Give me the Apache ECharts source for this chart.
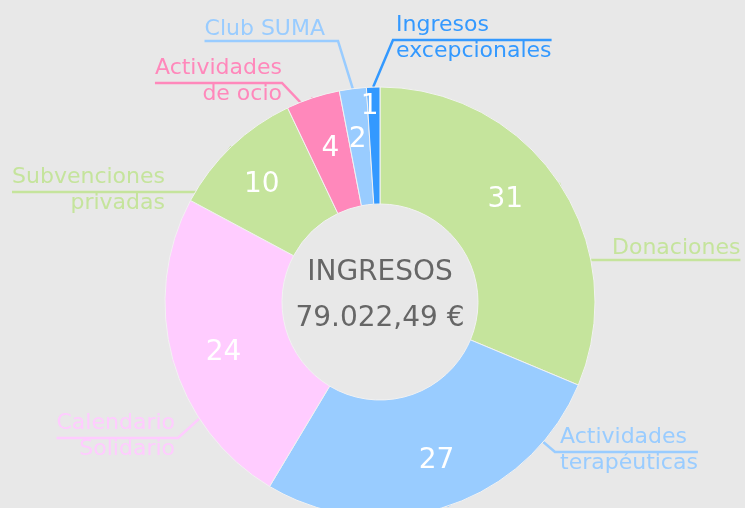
<!DOCTYPE html>
<html>
<head>
<meta charset="utf-8">
<script src="https://cdn.jsdelivr.net/npm/echarts@6/dist/echarts.min.js"></script>
<style>
  html, body { margin: 0; padding: 0; background: #e8e8e8; }
  #main { width: 745px; height: 508px; }
</style>
</head>
<body>
<div id="main"></div>
<script>
// datos
const categorias = ['Donaciones', 'Actividades\nterapéuticas', 'Calendario\nSolidario', 'Subvenciones\nprivadas', 'Actividades\nde ocio', 'Club SUMA', 'Ingresos\nexcepcionales'];
const valores = [31, 27, 24, 10, 4, 2, 1];
const colores = ['#c5e49c', '#99ccff', '#ffccff', '#c5e49c', '#ff88bb', '#99ccff', '#3399ff'];
const tituloCentro = ['INGRESOS', '79.022,49 €'];

// estilo de las etiquetas (puntos de quiebre de las lineas, no son datos)
const CX = 380, CY = 302;
const guias = [
  { bends: [[585, 260]], side: 1, pad: 27 },
  { bends: [[541, 440], [555, 452]], side: 1, pad: 5 },
  { bends: [[200, 418], [178, 438]], side: -1, pad: 3 },
  { bends: [[198, 192]], side: -1, pad: 33 },
  { bends: [[304, 106], [282, 83]], side: -1, pad: 0 },
  { bends: [[338, 41]], side: -1, pad: 13 },
  { bends: [[393, 40]], side: 1, pad: 3 }
];
const offsetNumeros = [[-15, -9], [4, -1], [6, 6], [-2, 5], [3, 7], [-1, 5], [-5, -27]];

const myChart = echarts.init(document.getElementById('main'));

const option = {
  backgroundColor: '#e8e8e8',
  animation: false,
  title: {
    text: tituloCentro.join('\n'),
    left: CX,
    top: 250,
    textAlign: 'center',
    padding: 0,
    textStyle: {
      fontFamily: 'DejaVu Sans',
      fontSize: 28,
      fontWeight: 'normal',
      color: '#666666',
      lineHeight: 46
    }
  },
  series: [
    {
      type: 'pie',
      center: [CX, CY],
      radius: [98, 215],
      startAngle: 90,
      clockwise: true,
      avoidLabelOverlap: false,
      silent: true,
      itemStyle: { borderColor: '#f2f2f2', borderWidth: 1 },
      label: {
        show: true,
        position: 'outside',
        fontFamily: 'DejaVu Sans',
        fontSize: 22,
        lineHeight: 26
      },
      labelLine: { show: true, lineStyle: { width: 2.5 } },
      labelLayout: function (params) {
        const g = guias[params.dataIndex];
        const pts = [params.labelLinePoints[0]].concat(g.bends);
        const last = g.bends[g.bends.length - 1];
        const lx = last[0] + g.side * g.pad;
        const w = params.labelRect.width;
        pts.push([lx + g.side * w, last[1]]);
        const dosLineas = params.text.indexOf('\n') >= 0;
        return {
          x: lx,
          y: dosLineas ? last[1] - 2 : last[1] + 1,
          align: g.side > 0 ? 'left' : 'right',
          verticalAlign: dosLineas ? 'middle' : 'bottom',
          labelLinePoints: pts
        };
      },
      data: categorias.map((c, i) => ({
        name: c,
        value: valores[i],
        itemStyle: { color: colores[i] },
        label: { color: colores[i] },
        labelLine: { lineStyle: { color: colores[i], width: 2.5 } }
      }))
    },
    {
      // numeros dentro de los sectores
      type: 'pie',
      center: [CX, CY],
      radius: [116, 215],
      startAngle: 90,
      clockwise: true,
      silent: true,
      itemStyle: { color: 'transparent' },
      label: {
        show: true,
        position: 'inside',
        formatter: '{c}',
        color: '#ffffff',
        fontFamily: 'DejaVu Sans',
        fontSize: 28
      },
      labelLine: { show: false },
      data: categorias.map((c, i) => ({
        name: c,
        value: valores[i],
        label: { offset: offsetNumeros[i] }
      }))
    }
  ]
};

myChart.setOption(option);
window.addEventListener('resize', function () {
  myChart.resize();
});
</script>
</body>
</html>
